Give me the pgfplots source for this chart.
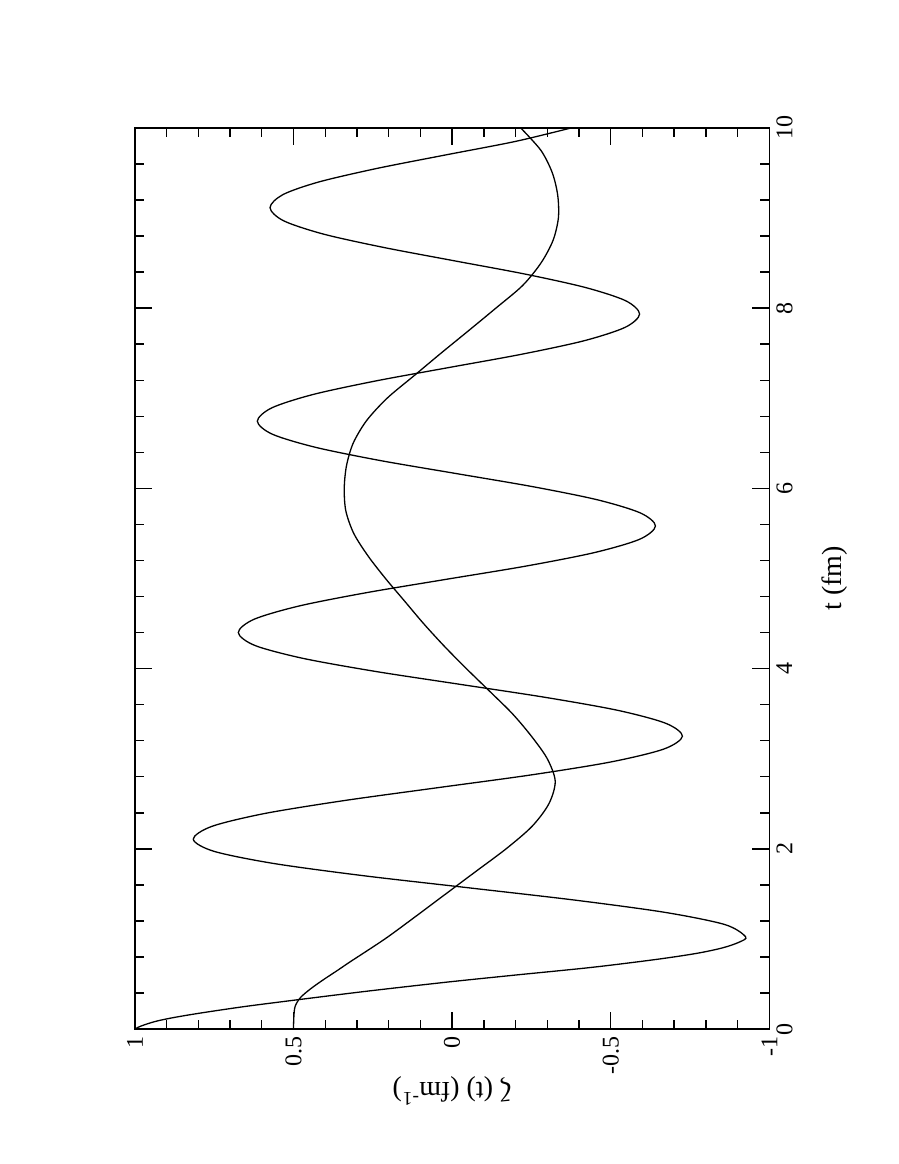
\documentclass[border=0pt]{standalone}
\usepackage{fontspec}
\setmainfont{Liberation Serif}
\usepackage{pgfplots}
\pgfplotsset{compat=1.18}
\begin{document}
\begin{tikzpicture}[rotate=90, transform shape]
\begin{axis}[name=ax,
  width=451pt, height=317.5pt, scale only axis,
  xmin=0, xmax=10, ymin=-1, ymax=1,
  xtick={0,2,4,6,8,10}, xticklabels={0,2,4,6,8,10},
  ytick={-1,-0.5,0,0.5,1}, yticklabels={-1,-0.5,0,0.5,1},
  minor x tick num=4, minor y tick num=4,
  tick align=inside,
  major tick length=8.5pt, minor tick length=4.5pt,
  axis line style={line width=0.8pt}, every tick/.style={line width=0.7pt, black},
  tick label style={font=\fontsize{12}{14}\selectfont},
  xlabel={t (fm)}, ylabel={ζ (t) (fm\textsuperscript{-1})},
  every axis x label/.style={at={(axis description cs:0.5,0)}, yshift=-32.5pt, anchor=center, font=\fontsize{14}{16}\selectfont},
  every axis y label/.style={at={(axis description cs:0,0.5)}, xshift=-31pt, rotate=90, anchor=center, font=\fontsize{14}{16}\selectfont},
]
\addplot[black, line width=0.65pt, smooth] coordinates {
(0,1) (0.02,0.99) (0.05,0.968) (0.09,0.93) (0.13,0.875) (0.18,0.79) (0.25,0.655)
(0.32,0.50) (0.42,0.27) (0.52,0.02) (0.60,-0.20) (0.685,-0.44) (0.773,-0.643)
(0.84,-0.77) (0.901,-0.852) (0.965,-0.905) (1.026,-0.925)
(1.161,-0.859) (1.296,-0.670) (1.431,-0.388) (1.567,-0.0545) (1.702,0.279)
(1.837,0.561) (1.972,0.750) (2.107,0.816)
(2.250,0.757) (2.393,0.590) (2.536,0.340) (2.679,0.045) (2.821,-0.250)
(2.964,-0.500) (3.107,-0.667) (3.25,-0.726)
(3.394,-0.673) (3.538,-0.521) (3.681,-0.294) (3.825,-0.026) (3.969,0.242)
(4.113,0.469) (4.256,0.621) (4.40,0.674)
(4.548,0.624) (4.696,0.481) (4.844,0.268) (4.992,0.0165) (5.139,-0.235)
(5.287,-0.448) (5.435,-0.591) (5.583,-0.641)
(5.728,-0.593) (5.874,-0.457) (6.019,-0.254) (6.164,-0.0135) (6.309,0.227)
(6.455,0.430) (6.600,0.566) (6.745,0.614)
(6.894,0.568) (7.042,0.438) (7.191,0.242) (7.340,0.0115) (7.488,-0.219)
(7.637,-0.415) (7.786,-0.545) (7.934,-0.591)
(8.082,-0.547) (8.229,-0.420) (8.377,-0.231) (8.524,-0.0085) (8.672,0.214)
(8.819,0.403) (8.967,0.530) (9.114,0.574)
(9.26,0.533) (9.40,0.42) (9.55,0.237) (9.70,0.02) (9.85,-0.20) (10,-0.376)
};
\addplot[black, line width=0.65pt, smooth] coordinates {
(0,0.5) (0.125,0.499) (0.25,0.495) (0.35,0.478) (0.45,0.445) (0.55,0.405)
(0.65,0.362) (0.75,0.32) (1.0,0.212) (1.25,0.115)
(1.5,0.02) (1.75,-0.075) (2.0,-0.17) (2.25,-0.252) (2.5,-0.305) (2.75,-0.325)
(3.0,-0.30) (3.25,-0.25) (3.5,-0.19) (3.75,-0.118) (4.0,-0.045) (4.25,0.025)
(4.5,0.09) (4.75,0.15) (5.0,0.21) (5.25,0.265) (5.5,0.31) (5.75,0.335) (6.0,0.34)
(6.25,0.333) (6.5,0.312) (6.75,0.27) (7.0,0.205) (7.25,0.12) (7.5,0.035)
(7.75,-0.052) (8.0,-0.138) (8.25,-0.222) (8.5,-0.28) (8.75,-0.318) (9.0,-0.335)
(9.25,-0.333) (9.5,-0.316) (9.75,-0.28) (10,-0.216)
};
\end{axis}
\pgfresetboundingbox
\path[use as bounding box] ([shift={(-67.5pt,-64.5pt)}]ax.south west) rectangle ([shift={(64pt,67.5pt)}]ax.north east);
\end{tikzpicture}
\end{document}
